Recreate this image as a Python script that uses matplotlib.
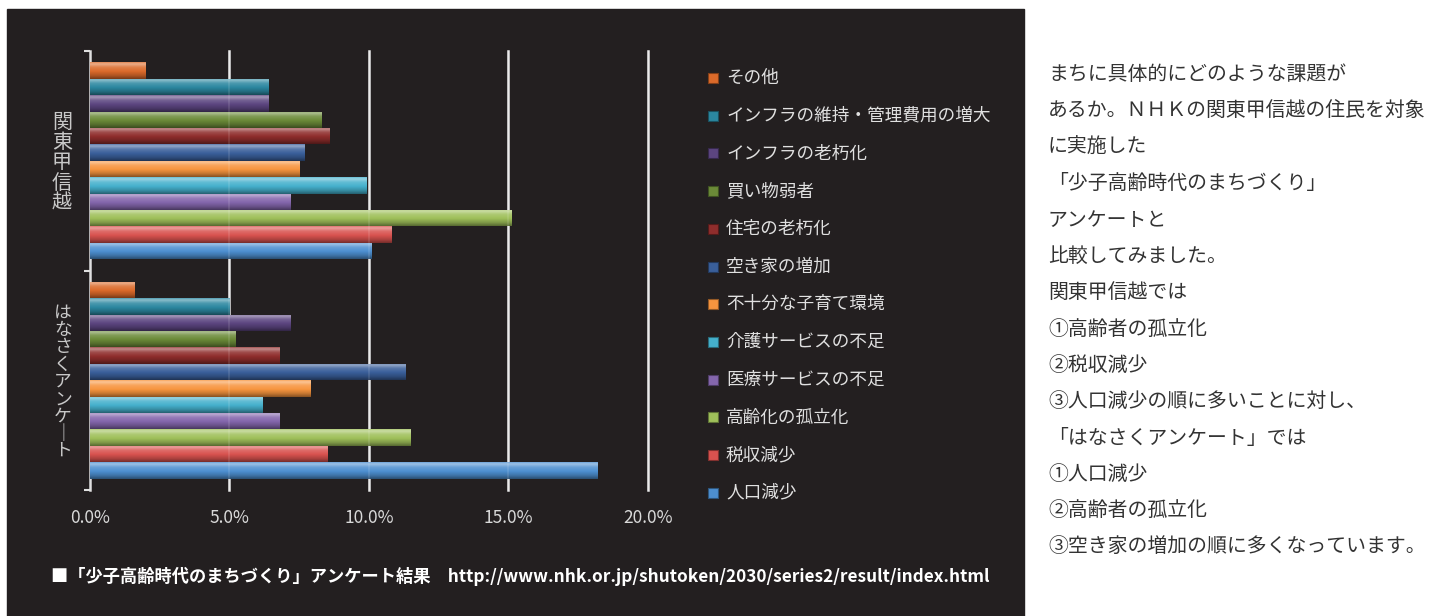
import numpy as np
import matplotlib.pyplot as plt
from matplotlib import colors as mcolors
from matplotlib.patches import Rectangle

plt.rcParams['font.family'] = ['Noto Sans CJK JP', 'DejaVu Sans']

# 調査項目（下から順）
items = ['人口減少', '税収減少', '高齢化の孤立化', '医療サービスの不足', '介護サービスの不足',
         '不十分な子育て環境', '空き家の増加', '住宅の老朽化', '買い物弱者',
         'インフラの老朽化', 'インフラの維持・管理費用の増大', 'その他']
# 回答割合（%）
hanasaku = [18.2, 8.5, 11.5, 6.8, 6.2, 7.9, 11.3, 6.8, 5.2, 7.2, 5.0, 1.6]
kanto = [10.1, 10.8, 15.1, 7.2, 9.9, 7.5, 7.7, 8.6, 8.3, 6.4, 6.4, 2.0]
groups = ['はなさくアンケート', '関東甲信越']
colors = ['#4d8fd0', '#d8524f', '#9fc05a', '#8466ac', '#45b0cc', '#f7953f',
          '#3a5f9a', '#8f2d2c', '#6b8a38', '#5c4580', '#2b87a0', '#db6a2a']
xticks = [0, 5, 10, 15, 20]

comment = ['まちに具体的にどのような課題が',
           'あるか。ＮＨＫの関東甲信越の住民を対象',
           'に実施した',
           '「少子高齢時代のまちづくり」',
           'アンケートと',
           '比較してみました。',
           '関東甲信越では',
           '①高齢者の孤立化',
           '②税収減少',
           '③人口減少の順に多いことに対し、',
           '「はなさくアンケート」では',
           '①人口減少',
           '②高齢者の孤立化',
           '③空き家の増加の順に多くなっています。']
source = '■「少子高齢時代のまちづくり」アンケート結果　http://www.nhk.or.jp/shutoken/2030/series2/result/index.html'

W, H = 1446, 616
BG = '#231f20'
fig = plt.figure(figsize=(W / 100, H / 100), dpi=100)
fig.patch.set_facecolor('white')
fig.patches.append(Rectangle((7 / W, 0), (1024 - 7) / W, (H - 9) / H,
                             transform=fig.transFigure, color=BG, zorder=-5))

ax = fig.add_axes([90 / W, (H - 490) / H, (647.7 - 90) / W, 439 / H])
ax.set_facecolor(BG)


def shade(c, f):
    rgb = np.array(mcolors.to_rgb(c))
    if f >= 0:
        return rgb + (1 - rgb) * f
    return rgb * (1 + f)


# 立体風の縦グラデーション（上が明るく下が暗い）
prof_pos = [0.0, 0.1, 0.3, 0.55, 0.8, 1.0]
prof_val = [0.2, 0.45, 0.15, 0.0, -0.2, -0.45]
t = np.linspace(0, 1, 40)
prof = np.interp(t, prof_pos, prof_val)

n = len(items)
h = 0.897 / n
for gi, vals in enumerate([hanasaku, kanto]):
    for i, v in enumerate(vals):
        y = gi + 0.5 - 0.897 / 2 + (i + 0.5) * h
        bar = ax.barh(y, v, height=h, color=colors[i], edgecolor='none', zorder=2)[0]
        grad = np.array([shade(colors[i], f) for f in prof])[:, None, :]
        im = ax.imshow(grad, extent=[0, v, y - h / 2, y + h / 2], aspect='auto',
                       interpolation='bilinear', origin='upper', zorder=3)
        im.set_clip_path(bar)

ax.set_xlim(0, 20)
ax.set_ylim(0, 2)

for x in xticks[1:]:
    ax.axvline(x, color='#e8e8e8', lw=1.8, zorder=1, clip_on=False)
    ax.axvline(x, color='#ffffff', lw=1.2, alpha=0.12, zorder=5, clip_on=False)

ax.set_xticks(xticks)
ax.set_xticklabels([f'{x:.1f}%' for x in xticks], color='#d9d9d9', fontsize=12.5)
ax.tick_params(axis='x', length=0, pad=14)

ax.set_yticks([0, 1, 2])
ax.set_yticklabels([])
ax.tick_params(axis='y', direction='out', length=4.5, width=1.5, color='#e0e0e0')
ax.set_yticks([0.5, 1.5], minor=True)
ax.tick_params(axis='y', which='minor', length=0, pad=13)
ylabels = ax.set_yticklabels(['\n'.join(g.replace('ー', '｜')) for g in groups], minor=True,
                             color='#c8c8c8', fontsize=14.5, linespacing=0.95)
ylabels[0].set_fontsize(12.8)

for s in ['top', 'right', 'bottom']:
    ax.spines[s].set_visible(False)
ax.spines['left'].set_color('#e0e0e0')
ax.spines['left'].set_linewidth(1.8)

# 凡例（上から「その他」→「人口減少」）
for k, idx in enumerate(range(n - 1, -1, -1)):
    yc = 78 + k * 37.7
    fig.patches.append(Rectangle((708 / W, 1 - (yc + 5) / H), 10 / W, 10 / H,
                                 transform=fig.transFigure, facecolor=colors[idx],
                                 edgecolor=shade(colors[idx], -0.4), lw=0.8, zorder=3))
    fig.text(726 / W, 1 - yc / H, items[idx], color='#e0e0e0', fontsize=12.7,
             va='center', ha='left')

fig.text(51 / W, 1 - 576 / H, source, color='white', fontsize=12.4,
         fontweight='bold', va='center', ha='left')

for k, line in enumerate(comment):
    fig.text(1048 / W, 1 - (75 + k * 36.3) / H, line, color='#333333',
             fontsize=14.3, va='center', ha='left')

fig.savefig('out.png', dpi=100, facecolor=fig.get_facecolor())
